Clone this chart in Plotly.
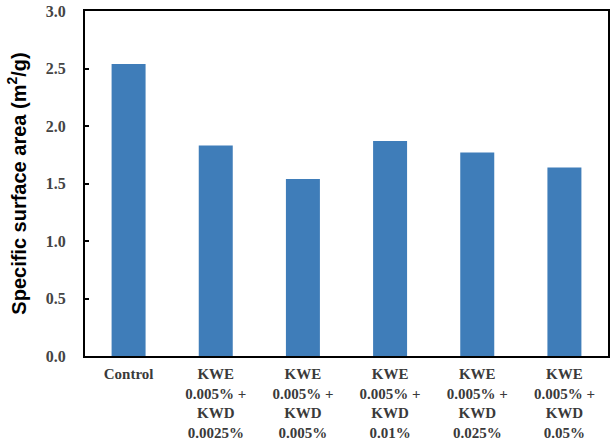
import plotly.graph_objects as go

categories = ["Control",
              "KWE<br>0.005% +<br>KWD<br>0.0025%",
              "KWE<br>0.005% +<br>KWD<br>0.005%",
              "KWE<br>0.005% +<br>KWD<br>0.01%",
              "KWE<br>0.005% +<br>KWD<br>0.025%",
              "KWE<br>0.005% +<br>KWD<br>0.05%"]
values = [2.54, 1.83, 1.54, 1.87, 1.77, 1.64]
y_ticks = [0.0, 0.5, 1.0, 1.5, 2.0, 2.5, 3.0]
y_ticktext = [f"{v:.1f}" for v in y_ticks]

fig = go.Figure()
fig.add_trace(go.Bar(x=categories, y=values, marker=dict(color="#3f7db9", line=dict(width=0)),
                     width=0.39))

serif = "Liberation Serif, Times New Roman, serif"
fig.update_layout(
    width=615, height=442,
    margin=dict(l=85, r=7, t=11, b=86),
    plot_bgcolor="white", paper_bgcolor="white",
    showlegend=False,
    xaxis=dict(
        showline=True, linecolor="black", linewidth=2, mirror=True,
        ticks="", showgrid=False, automargin=False,
        ticklabelstandoff=3,
        tickfont=dict(family=serif, size=15, color="#3a3a3a", weight="bold"),
    ),
    yaxis=dict(
        range=[0, 3.0], tickvals=y_ticks, ticktext=y_ticktext,
        showline=True, linecolor="black", linewidth=2, mirror=True,
        ticks="inside", ticklen=4, tickwidth=2, tickcolor="black",
        showgrid=False, zeroline=False, automargin=False,
        ticklabelstandoff=14,
        tickfont=dict(family=serif, size=16, color="#444444", weight="bold"),
        title=dict(text="Specific surface area (m<sup>2</sup>/g)",
                   font=dict(family="Liberation Sans, Arial, sans-serif", size=20, color="black", weight="bold"),
                   standoff=14),
    ),
)

fig.write_html("out.html")
